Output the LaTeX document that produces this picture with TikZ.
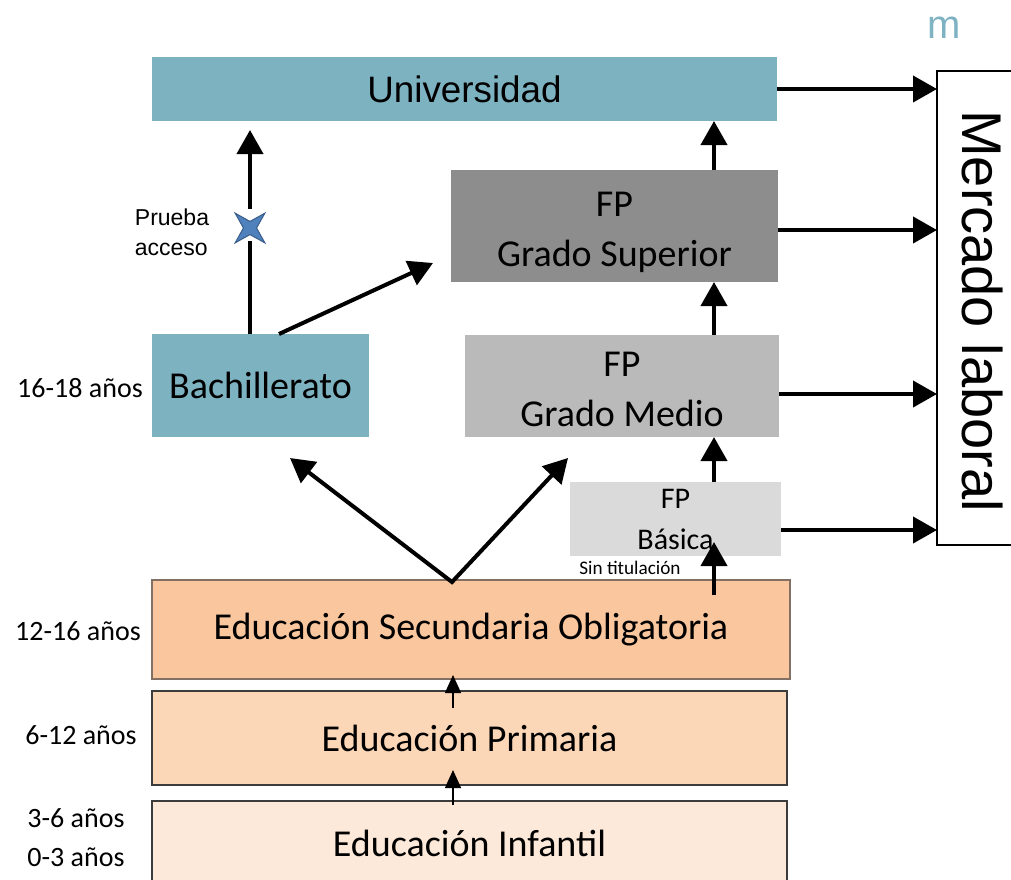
\documentclass[tikz,border=0pt]{standalone}
\usepackage{fontspec}
\setmainfont{Carlito}
\newfontfamily\arialf{Liberation Sans}
\usetikzlibrary{arrows.meta,shapes.geometric,calc}
\definecolor{cblue}{RGB}{125,178,193}
\definecolor{cgs}{RGB}{141,141,141}
\definecolor{cgm}{RGB}{186,186,186}
\definecolor{cfpb}{RGB}{218,218,218}
\definecolor{ceso}{RGB}{250,198,158}
\definecolor{cprim}{RGB}{251,214,183}
\definecolor{cinf}{RGB}{253,233,217}
\definecolor{cesoline}{RGB}{130,112,100}
\definecolor{cline}{RGB}{60,60,60}
\definecolor{starblue}{RGB}{79,129,189}
\definecolor{stardark}{RGB}{56,93,138}
\definecolor{cm}{RGB}{127,179,196}
\begin{document}
\begin{tikzpicture}[x=0.5pt,y=-0.5pt,
  box/.style={inner sep=0pt, outer sep=0pt, anchor=center, text=black, align=center},
  big/.style={font=\fontsize{19}{25}\selectfont},
  age/.style={font=\fontsize{14}{16}\selectfont, inner sep=0pt},
  arr/.style={line width=2pt, -{Triangle[length=12pt,width=13pt]}},
  arrtwo/.style={line width=2pt, line join=miter, {Triangle[length=12pt,width=13pt]}-{Triangle[length=12pt,width=13pt]}},
  tarr/.style={line width=0.75pt, -{Triangle[length=9pt,width=8pt]}},
  thickline/.style={line width=2pt}]
\useasboundingbox (0,0) rectangle (1011,879);
\clip (0,0) rectangle (1011,879);

% boxes
\node[box, fill=cblue, minimum width=312.5pt, minimum height=32pt,
      font=\arialf\fontsize{18.4}{22}\selectfont] (univ) at (464.5,89) {Universidad};
\node[box, fill=cgs, minimum width=163.5pt, minimum height=56pt] (gs) at (614.5,226) {};
\node[box, big] (gst) at ($(gs.center)+(0,6)$) {FP\\Grado Superior};
\node[box, big, fill=cblue, minimum width=108.5pt, minimum height=51.5pt] (bach) at (260.5,385.5) {Bachillerato};
\node[box, fill=cgm, minimum width=157pt, minimum height=51pt] (gm) at (622,386) {};
\node[box, big] (gmt) at ($(gm.center)+(0,3)$) {FP\\Grado Medio};
\node[box, fill=cfpb, minimum width=105.5pt, minimum height=37pt,
      font=\fontsize{15}{20.5}\selectfont] (fpb) at (675.5,519) {FP\\Básica};
\node[box, big, fill=ceso, draw=cesoline, line width=0.75pt, minimum width=319pt, minimum height=49.5pt] (eso) at (471,629.5) {Educación Secundaria Obligatoria};
\node[box, big, fill=cprim, draw=cline, line width=0.75pt, minimum width=317.5pt, minimum height=47pt] (prim) at (469.5,738) {Educación Primaria};
\node[box, big, fill=cinf, draw=cline, line width=0.75pt, minimum width=317.5pt, minimum height=42pt] (inf) at (469.5,843) {Educación Infantil};

\node[box, draw=black, fill=white, line width=0.6pt, minimum width=46pt, minimum height=237pt] (merc) at (983,308) {};
\node[rotate=-90, inner sep=0pt, font=\arialf\fontsize{28}{30}\selectfont] (mercl) at ($(merc.center)+(0,3)$) {Mercado laboral};

% labels
\node[age] (a1) at (80,388) {16-18 años};
\node[age] (a2) at (78,631) {12-16 años};
\node[age] (a3) at (81,735) {6-12 años};
\node[age] (a4) at (76,818) {3-6 años};
\node[age] (a5) at (76,857) {0-3 años};
\node[inner sep=0pt, align=left, font=\arialf\fontsize{11.5}{15}\selectfont] (pa) at (172,232) {Prueba\\acceso};
\node[inner sep=0pt, font=\fontsize{9.6}{11}\selectfont] (sin) at (630,568) {Sin titulación};
\node[inner sep=0pt, text=cm, font=\arialf\fontsize{20}{22}\selectfont] (mm) at (944,28) {m};

% arrows to labour market
\draw[arr] (univ.east) -- (univ.east -| merc.west);
\draw[arr] ($(gs.east)+(0,4)$) -- ($(gs.east -| merc.west)+(0,4)$);
\draw[arr] ($(gm.east)+(0,8)$) -- ($(gm.east -| merc.west)+(0,8)$);
\draw[arr] ($(fpb.east)+(0,11)$) -- ($(fpb.east -| merc.west)+(0,11)$);

% FP chain
\coordinate (vx) at (714,0);
\draw[arr] (vx |- gs.north) -- (vx |- univ.south);
\draw[arr] (vx |- gm.north) -- (vx |- gs.south);
\draw[arr] (vx |- fpb.north) -- (vx |- gm.south);
\draw[arr] ($(vx |- eso.north)+(0,15)$) -- ($(vx |- fpb.south)+(0,-14)$);

% Bachillerato to Universidad with access test
\coordinate (bx) at (250,0);
\node[star, star points=4, star point ratio=3.2, minimum size=21pt, inner sep=0pt,
      shape border rotate=45, fill=starblue, draw=stardark, line width=0.5pt] (st) at (250,228) {};
\draw[thickline, shorten >=3pt] (bx |- bach.north) -- (st);
\draw[arr, shorten <=6pt] (st) -- ($(bx |- univ.south)+(0,9)$);

% Bachillerato to Grado Superior
\draw[arr] ($(bach.north)+(18.5,0)$) -- ($(gs.west)+(-18,37)$);

% ESO to Bachillerato and Grado Medio
\coordinate (vv) at ($(eso.north)+(-19,2)$);
\draw[arrtwo] ($(bach.south)+(29.5,21)$) -- (vv) -- ($(gm.south)+(-54,21)$);

% thin arrows
\coordinate (tx) at (453,0);
\draw[tarr] ($(tx |- prim.north)+(0,17)$) -- ($(tx |- eso.south)+(0,-4)$);
\draw[tarr] ($(tx |- inf.north)+(0,4)$) -- ($(tx |- prim.south)+(0,-15)$);
\end{tikzpicture}
\end{document}
